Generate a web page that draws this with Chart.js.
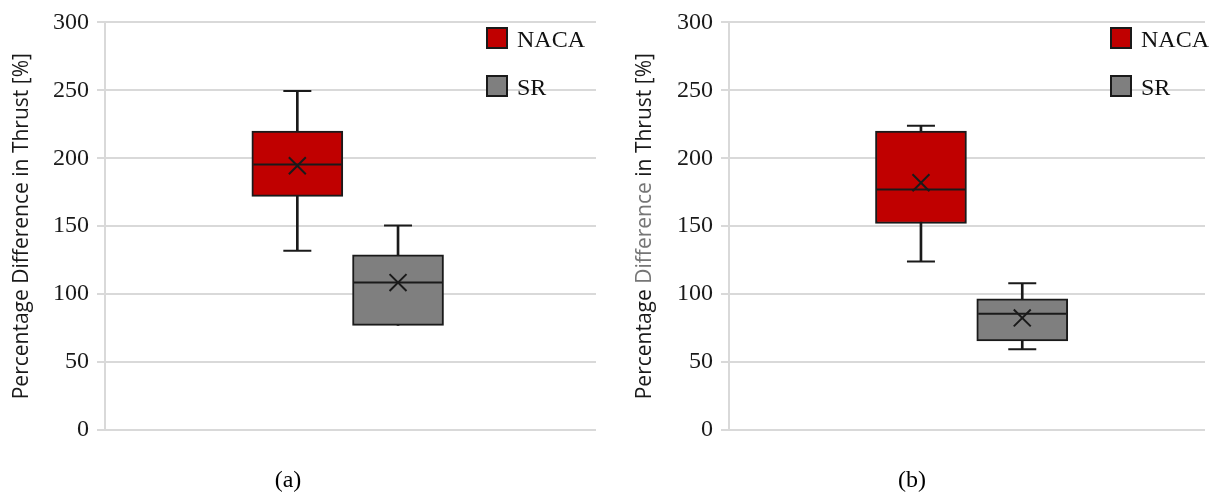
<!DOCTYPE html>
<html><head><meta charset="utf-8">
<script src="https://cdn.jsdelivr.net/npm/chart.js@4.4.1/dist/chart.umd.min.js"></script>
<style>
html,body{margin:0;padding:0;background:#fff;}
#wrap{position:relative;width:1213px;height:493px;overflow:hidden;background:#fff;}
.panel{position:absolute;top:0;height:493px;}
#pa{left:0;width:606px;}
#pb{left:606px;width:607px;}
.cap{position:absolute;top:465px;font-family:"Liberation Serif","Times New Roman",serif;font-size:24px;line-height:28px;color:#000;transform:translateX(-50%);white-space:nowrap;}
#capA{left:288px;}
#capB{left:912px;}
</style></head><body>
<div id="wrap">
  <div class="panel" id="pa"><canvas id="ca"></canvas></div>
  <div class="panel" id="pb"><canvas id="cb"></canvas></div>
  <div class="cap" id="capA"></div>
  <div class="cap" id="capB"></div>
</div>
<script>
// ---- data ----
const categories = ['NACA', 'SR'];
const boxColors = ['#C00000', '#7F7F7F'];
const yTicks = [0, 50, 100, 150, 200, 250, 300];
// panel (a)
const aMin    = [132, 77];
const aQ1     = [172, 77];
const aMedian = [195.5, 108.5];
const aQ3     = [220, 129];
const aMax    = [249.5, 150.5];
const aMean   = [194.5, 108.5];
// panel (b)
const bMin    = [124, 59.5];
const bQ1     = [152, 65.5];
const bMedian = [177, 85.5];
const bQ3     = [220, 96.5];
const bMax    = [224, 108];
const bMean   = [182, 82.5];
const captions = ['(a)', '(b)'];
const yTitleA = [['Percentage Difference in Thrust [%]', '#1a1a1a']];
const yTitleB = [['Percentage ', '#1a1a1a'], ['Difference', '#767676'], [' in Thrust [%]', '#1a1a1a']];

document.getElementById('capA').textContent = captions[0];
document.getElementById('capB').textContent = captions[1];

const INK = '#1a1a1a';

function makeDatasets(mn, q1, med, q3, mx, mean) {
  const xs = categories.map((c, i) => i + 1);
  const ds = [];
  ds.push({
    type: 'bar', label: 'whiskers',
    data: xs.map((x, i) => ({x: x, y: [mn[i], mx[i]]})),
    backgroundColor: INK, borderWidth: 0, barThickness: 2, maxBarThickness: 2,
    grouped: false, order: 3
  });
  categories.forEach((c, i) => {
    ds.push({
      type: 'bar', label: c,
      data: [{x: xs[i], y: [q1[i], q3[i]]}],
      backgroundColor: boxColors[i], borderColor: INK, borderWidth: 2, borderSkipped: false,
      barThickness: 91, maxBarThickness: 91, grouped: false, order: 2
    });
  });
  // whisker caps (only where the whisker has length)
  const caps = [];
  xs.forEach((x, i) => {
    if (mn[i] < q1[i]) caps.push({x: x, y: mn[i]});
    if (mx[i] > q3[i]) caps.push({x: x, y: mx[i]});
  });
  ds.push({
    type: 'scatter', label: 'caps', data: caps,
    pointStyle: 'line', pointRadius: 14, pointHoverRadius: 14,
    borderColor: INK, pointBorderColor: INK, pointBorderWidth: 2, order: 1
  });
  ds.push({
    type: 'scatter', label: 'median',
    data: xs.map((x, i) => ({x: x, y: med[i]})),
    pointStyle: 'line', pointRadius: 44, pointHoverRadius: 44,
    borderColor: INK, pointBorderColor: INK, pointBorderWidth: 2, order: 1
  });
  ds.push({
    type: 'scatter', label: 'mean',
    data: xs.map((x, i) => ({x: x, y: mean[i]})),
    pointStyle: 'crossRot', pointRadius: 12, pointHoverRadius: 12,
    borderColor: INK, pointBorderColor: INK, pointBorderWidth: 2, order: 0
  });
  return ds;
}

const yTitlePlugin = {
  id: 'yTitle',
  afterDraw(chart, args, opts) {
    const ctx = chart.ctx, ca = chart.chartArea;
    ctx.save();
    ctx.font = '21px "Open Sans"';
    ctx.textBaseline = 'middle';
    ctx.textAlign = 'left';
    const cy = (ca.top + ca.bottom) / 2;
    ctx.translate(opts.x, cy);
    ctx.rotate(-Math.PI / 2);
    let total = 0;
    opts.parts.forEach(p => { total += ctx.measureText(p[0]).width; });
    let pos = -total / 2;
    opts.parts.forEach(p => {
      ctx.fillStyle = p[1];
      ctx.fillText(p[0], pos, 0);
      pos += ctx.measureText(p[0]).width;
    });
    ctx.restore();
  }
};

const boxLegendPlugin = {
  id: 'boxLegend',
  afterDraw(chart, args, opts) {
    const ctx = chart.ctx;
    ctx.save();
    ctx.font = '24px "Liberation Serif"';
    ctx.textBaseline = 'alphabetic';
    ctx.textAlign = 'left';
    categories.forEach((c, i) => {
      const y = opts.y + i * opts.gap;
      ctx.fillStyle = boxColors[i];
      ctx.fillRect(opts.x, y, 20, 20);
      ctx.strokeStyle = INK;
      ctx.lineWidth = 2;
      ctx.strokeRect(opts.x, y, 20, 20);
      ctx.fillStyle = '#111';
      ctx.fillText(c, opts.x + 30, y + 19);
    });
    ctx.restore();
  }
};

function makeOptions(xMin, xMax, yW, padRight, titleParts, titleX, legendX) {
  return {
    responsive: true, maintainAspectRatio: false, animation: false, events: [],
    layout: {autoPadding: false, padding: {top: 18, right: padRight, left: 0, bottom: 0}},
    plugins: {
      legend: {display: false},
      tooltip: {enabled: false},
      yTitle: {parts: titleParts, x: titleX},
      boxLegend: {x: legendX, y: 28, gap: 48}
    },
    scales: {
      x: {
        type: 'linear', min: xMin, max: xMax, offset: false,
        grid: {display: false, offset: false}, border: {display: false}, ticks: {display: false},
        afterBuildTicks: s => { s.ticks = categories.map((c, i) => ({value: i + 1})); },
        afterFit: s => { s.height = 63; }
      },
      y: {
        type: 'linear', min: 0, max: 300,
        afterBuildTicks: s => { s.ticks = yTicks.map(v => ({value: v})); },
        ticks: {font: {family: '"Liberation Serif"', size: 24}, color: '#1a1a1a', padding: 8},
        grid: {color: '#d9d9d9', lineWidth: 2, tickLength: 8},
        border: {color: '#d9d9d9', width: 2},
        afterFit: s => { s.width = yW; }
      }
    }
  };
}

new Chart(document.getElementById('ca'), {
  type: 'bar',
  data: {datasets: makeDatasets(aMin, aQ1, aMedian, aQ3, aMax, aMean)},
  options: makeOptions(-0.91, 3.966, 105, 10, yTitleA, 22, 487),
  plugins: [yTitlePlugin, boxLegendPlugin]
});
new Chart(document.getElementById('cb'), {
  type: 'bar',
  data: {datasets: makeDatasets(bMin, bQ1, bMedian, bQ3, bMax, bMean)},
  options: makeOptions(-0.895, 3.804, 123, 8, yTitleB, 39, 505),
  plugins: [yTitlePlugin, boxLegendPlugin]
});
</script>
</body></html>
